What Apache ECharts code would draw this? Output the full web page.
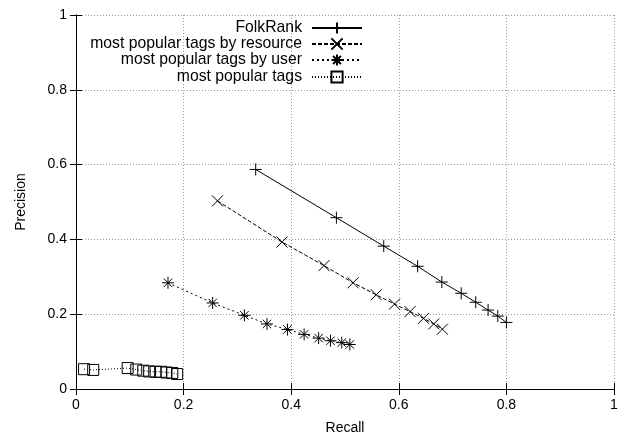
<!DOCTYPE html>
<html>
<head>
    <meta charset="utf-8">
    <title>Recall / Precision</title>
    <script src="https://cdn.jsdelivr.net/npm/echarts@6/dist/echarts.min.js"></script>
</head>
<body style="margin:0">
    <div id="chart" style="width: 624px; height: 440px;"></div>
    <script type="text/javascript">
        // values
        var seriesNames = ['FolkRank', 'most popular tags by resource', 'most popular tags by user', 'most popular tags'];
        var recallFolk = [0.334, 0.484, 0.572, 0.635, 0.680, 0.716, 0.743, 0.766, 0.784, 0.800];
        var precFolk = [0.587, 0.458, 0.382, 0.328, 0.286, 0.256, 0.232, 0.211, 0.195, 0.178];
        var recallRes = [0.263, 0.383, 0.461, 0.515, 0.558, 0.592, 0.621, 0.646, 0.665, 0.681];
        var precRes = [0.503, 0.393, 0.330, 0.284, 0.252, 0.227, 0.207, 0.189, 0.174, 0.160];
        var recallUser = [0.171, 0.254, 0.313, 0.355, 0.393, 0.424, 0.451, 0.473, 0.494, 0.509];
        var precUser = [0.284, 0.230, 0.197, 0.174, 0.159, 0.146, 0.136, 0.129, 0.124, 0.119];
        var recallPop = [0.015, 0.032, 0.096, 0.112, 0.125, 0.136, 0.148, 0.158, 0.168, 0.179, 0.188];
        var precPop = [0.053, 0.051, 0.056, 0.052, 0.049, 0.047, 0.046, 0.046, 0.044, 0.043, 0.040];
        var axisTicks = [0, 0.2, 0.4, 0.6, 0.8, 1];

        var font = 'Liberation Sans, Arial, sans-serif';

        function zip(xs, ys) {
            return xs.map(function (x, i) { return [x, ys[i]]; });
        }

        var symPlus = 'path://M0,5L10,5M5,0L5,10';
        var symCross = 'path://M0,0L10,10M0,10L10,0';
        var symStar = 'path://M0,5L10,5M5,0L5,10M1.5,1.5L8.5,8.5M1.5,8.5L8.5,1.5';
        var symBox = 'path://M0,0L10,0L10,10L0,10Z';

        function makeSeries(name, data, symbol, size, dash) {
            return {
                name: name,
                type: 'line',
                data: data,
                symbol: symbol,
                symbolSize: size,
                showAllSymbol: true,
                lineStyle: { color: '#000', width: 1, type: dash },
                itemStyle: { color: 'rgba(0,0,0,0)', borderColor: '#000', borderWidth: 1 }
            };
        }

        function makeLegend(name, top) {
            return {
                data: [name],
                right: 261,
                top: top,
                align: 'right',
                padding: 0,
                itemWidth: 50,
                itemHeight: 14,
                selectedMode: false,
                textStyle: { fontFamily: font, fontSize: 15.75, color: '#000', padding: [0, 5, 0, 0] }
            };
        }

        var splitStyle = { show: true, lineStyle: { color: '#999', type: [1, 2], width: 1 } };
        var lineBlack = { show: true, lineStyle: { color: '#000', width: 1 } };
        var tickIn = { show: true, inside: true, length: 6, lineStyle: { color: '#000' } };
        var labelStyle = { fontFamily: font, fontSize: 14, color: '#000', margin: 9 };

        var myChart = echarts.init(document.getElementById('chart'), null, { renderer: 'canvas' });
        myChart.setOption({
            animation: false,
            backgroundColor: '#fff',
            grid: { left: 76, right: 10, top: 15, bottom: 47 },
            legend: [
                makeLegend(seriesNames[0], 20),
                makeLegend(seriesNames[1], 36),
                makeLegend(seriesNames[2], 52),
                makeLegend(seriesNames[3], 69)
            ],
            xAxis: [{
                type: 'value', min: axisTicks[0], max: axisTicks[axisTicks.length - 1], interval: 0.2,
                position: 'bottom',
                name: 'Recall', nameLocation: 'middle', nameGap: 32,
                nameTextStyle: { fontFamily: font, fontSize: 14, color: '#000' },
                axisLine: lineBlack, axisTick: tickIn, axisLabel: labelStyle, splitLine: splitStyle
            }, {
                type: 'value', min: 0, max: 1, interval: 0.2, position: 'top',
                axisLine: lineBlack, axisTick: tickIn, axisLabel: { show: false }, splitLine: { show: false }
            }],
            yAxis: [{
                type: 'value', min: axisTicks[0], max: axisTicks[axisTicks.length - 1], interval: 0.2,
                position: 'left',
                name: 'Precision', nameLocation: 'middle', nameGap: 48,
                nameTextStyle: { fontFamily: font, fontSize: 14, color: '#000' },
                axisLine: lineBlack, axisTick: tickIn, axisLabel: labelStyle, splitLine: splitStyle
            }, {
                type: 'value', min: 0, max: 1, interval: 0.2, position: 'right',
                axisLine: lineBlack, axisTick: tickIn, axisLabel: { show: false }, splitLine: { show: false }
            }],
            series: [
                makeSeries(seriesNames[0], zip(recallFolk, precFolk), symPlus, 12, 'solid'),
                makeSeries(seriesNames[1], zip(recallRes, precRes), symCross, 11, [4, 2]),
                makeSeries(seriesNames[2], zip(recallUser, precUser), symStar, 12, [2, 3]),
                makeSeries(seriesNames[3], zip(recallPop, precPop), symBox, 11, [1, 2])
            ]
        });
    </script>
</body>
</html>
